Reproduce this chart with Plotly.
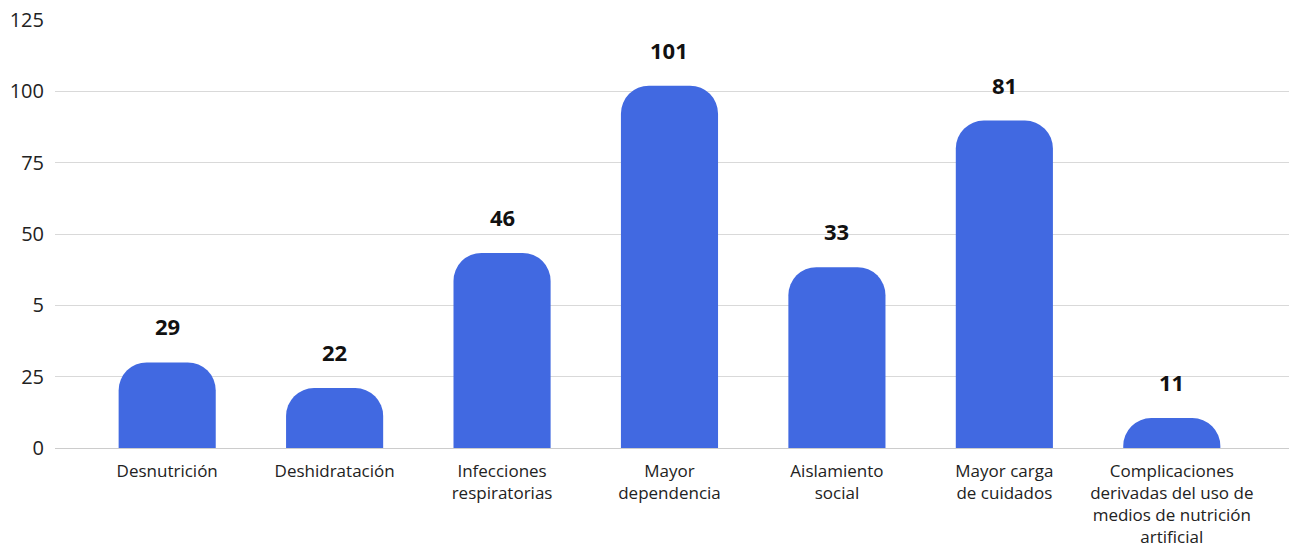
import plotly.graph_objects as go

categories = [
    "Desnutrición",
    "Deshidratación",
    "Infecciones<br>respiratorias",
    "Mayor<br>dependencia",
    "Aislamiento<br>social",
    "Mayor carga<br>de cuidados",
    "Complicaciones<br>derivadas del uso de<br>medios de nutrición<br>artificial",
]
# bar heights as drawn (in axis units of the plotted scale)
bar_heights = [24.0, 16.8, 54.7, 101.6, 50.7, 91.8, 8.4]
# value labels printed above bars
value_labels = ["29", "22", "46", "101", "33", "81", "11"]
# y axis gridline positions and their printed labels
y_tickvals = [0, 20, 40, 60, 80, 100, 120]
y_ticktext = ["0", "25", "5", "50", "75", "100", "125"]

BLUE = "#4169E1"
FONT = "Open Sans"

fig = go.Figure()
fig.add_trace(go.Bar(
    x=list(range(len(categories))),
    y=bar_heights,
    marker=dict(color=BLUE, line=dict(width=0)),
    hoverinfo="skip",
))

for i, (h, t) in enumerate(zip(bar_heights, value_labels)):
    fig.add_annotation(
        x=i, y=h, text=f"<b>{t}</b>", showarrow=False,
        yshift=36, font=dict(family=FONT, size=22, color="#111111"),
        xanchor="center", yanchor="middle",
    )

fig.update_layout(
    width=1290, height=550,
    margin=dict(l=55, r=1, t=20, b=102, autoexpand=False),
    paper_bgcolor="white", plot_bgcolor="white",
    bargap=0.42,
    barcornerradius=28,
    showlegend=False,
    font=dict(family=FONT, size=17, color="#222222"),
    xaxis=dict(
        tickmode="array",
        tickvals=list(range(len(categories))),
        ticktext=categories,
        range=[-0.67, 6.7],
        showgrid=False, zeroline=False, showline=False,
        ticks="", ticklabelstandoff=11, automargin=False,
        tickfont=dict(family=FONT, size=17, color="#222222"),
        fixedrange=True,
    ),
    yaxis=dict(
        range=[0, 120],
        tickmode="array", tickvals=y_tickvals, ticktext=y_ticktext,
        showgrid=True, gridcolor="#d9d9d9", gridwidth=1,
        zeroline=True, zerolinecolor="#cccccc", zerolinewidth=1,
        showline=False, ticks="", automargin=False,
        ticklabelstandoff=10,
        tickfont=dict(family=FONT, size=20, color="#222222"),
        fixedrange=True,
    ),
)

fig.write_html("out.html")
